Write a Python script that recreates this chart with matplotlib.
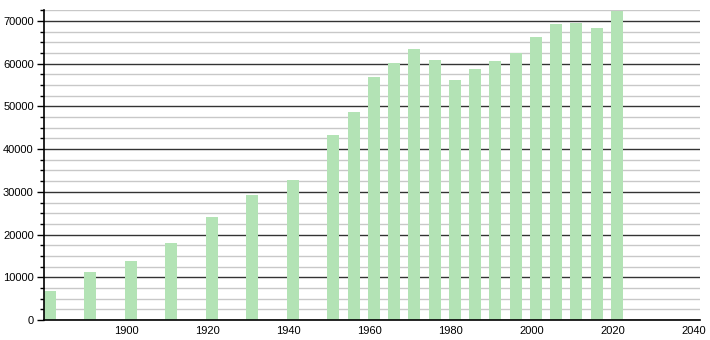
import matplotlib
matplotlib.use("Agg")
import matplotlib.pyplot as plt
from matplotlib.ticker import MultipleLocator

# census years and population values
years = [1881, 1891, 1901, 1911, 1921, 1931, 1941, 1951, 1956, 1961, 1966,
         1971, 1976, 1981, 1986, 1991, 1996, 2001, 2006, 2011, 2016, 2021]
population = [6800, 11250, 13830, 18050, 24140, 29300, 32810, 43360, 48750,
               56950, 60230, 63510, 60930, 56250, 58820, 60620, 62500, 66250,
               69370, 69600, 68430, 72420]
x_ticks = [1900, 1920, 1940, 1960, 1980, 2000, 2020, 2040]

BAR = "#b3e3b5"
MAJOR = "#333333"
MINOR = "#c8c8c8"

plt.rcParams["font.family"] = ["Liberation Sans", "DejaVu Sans"]

fig = plt.figure(figsize=(7.1, 3.4), dpi=100)
ax = fig.add_axes([0.0613, 0.0588, 0.9247, 0.9109])

ax.set_xlim(1879.5, 2041.5)
ax.set_ylim(0, 72500)

# grid: light lines every 2500, dark every 10000
ax.yaxis.set_major_locator(MultipleLocator(10000))
ax.yaxis.set_minor_locator(MultipleLocator(2500))
ax.grid(True, axis="y", which="minor", color=MINOR, lw=1.0, zorder=0)
ax.grid(True, axis="y", which="major", color=MAJOR, lw=1.0, zorder=1)
ax.set_axisbelow(True)

ax.bar(years, population, width=2.95, color=BAR, zorder=2)

ax.set_xticks(x_ticks)
ax.tick_params(axis="x", length=0, labelsize=8, pad=4)
ax.tick_params(axis="y", which="major", length=5, width=1, labelsize=8, pad=2)
ax.tick_params(axis="y", which="minor", length=3, width=1)

for s in ("top", "right"):
    ax.spines[s].set_visible(False)
ax.spines["left"].set_linewidth(1.2)
ax.spines["bottom"].set_linewidth(1.2)

fig.savefig("out.png", dpi=100)
